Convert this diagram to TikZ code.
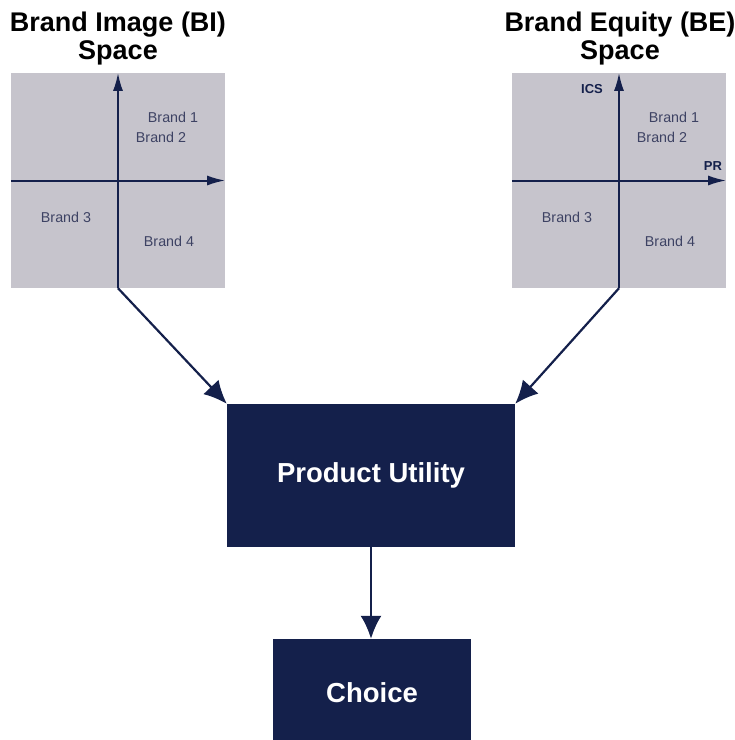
\documentclass[tikz,border=0pt]{standalone}
\usepackage{fontspec}
\setmainfont{Liberation Sans}
\usetikzlibrary{arrows.meta}

\definecolor{navy}{HTML}{14204B}
\definecolor{panelgray}{HTML}{C6C4CC}
\definecolor{brandgray}{HTML}{3D4263}

\begin{document}
\begin{tikzpicture}[x=1pt,y=-1pt,
	heading/.style={align=center,inner sep=0pt,font=\fontsize{27}{27.5}\selectfont\bfseries},
	panel/.style={fill=panelgray,minimum width=214pt,minimum height=215pt,inner sep=0pt},
	brand/.style={text=brandgray,inner sep=0pt,font=\fontsize{14.3}{16}\selectfont},
	axislabel/.style={text=navy,inner sep=0pt,font=\fontsize{13}{14}\selectfont\bfseries},
	axis/.style={draw=navy,line width=2pt,-{Latex[length=18pt,width=10pt]}},
	stage/.style={fill=navy,text=white,inner sep=0pt,font=\fontsize{27.5}{28}\selectfont\bfseries},
	link/.style={draw=navy,line width=2.2pt,-{Latex[length=23pt,width=21pt]}}]
	
	\useasboundingbox (0,0) rectangle (735,740);
	
	% the two spaces
	\node[heading] (bititle) at (118,38.5) {Brand Image (BI)\\Space};
	\node[heading] (betitle) at (620,38.5) {Brand Equity (BE)\\Space};
	\node[panel] (bi) at (118,180.5) {};
	\node[panel] (be) at (619,180.5) {};
	
	\foreach \sp in {bi,be}
	{
		\draw[axis] (\sp.south) -- (\sp.north);
		\draw[axis] (\sp.west) -- (\sp.east);
		\node[brand] (\sp1) at ([shift={(55,-63)}]\sp.center) {Brand 1};
		\node[brand] (\sp2) at ([shift={(43,-43)}]\sp.center) {Brand 2};
		\node[brand] (\sp3) at ([shift={(-52,37)}]\sp.center) {Brand 3};
		\node[brand] (\sp4) at ([shift={(51,61)}]\sp.center) {Brand 4};
	}
	
	\node[axislabel] (ics) at ([shift={(-27,-91)}]be.center) {ICS};
	\node[axislabel] (pr) at ([shift={(94,-14)}]be.center) {PR};
	
	% utility and choice
	\node[stage,minimum width=288pt,minimum height=143pt] (pu) at (371,475.5) {Product Utility};
	\node[stage,minimum width=198pt,minimum height=108pt] (choice) at (372,693) {Choice};
	
	\draw[link] (bi.south) -- (pu.north west);
	\draw[link] (be.south) -- (pu.north east);
	\draw[link] (pu.south) -- (pu.south |- choice.north);
	
\end{tikzpicture}
\end{document}
